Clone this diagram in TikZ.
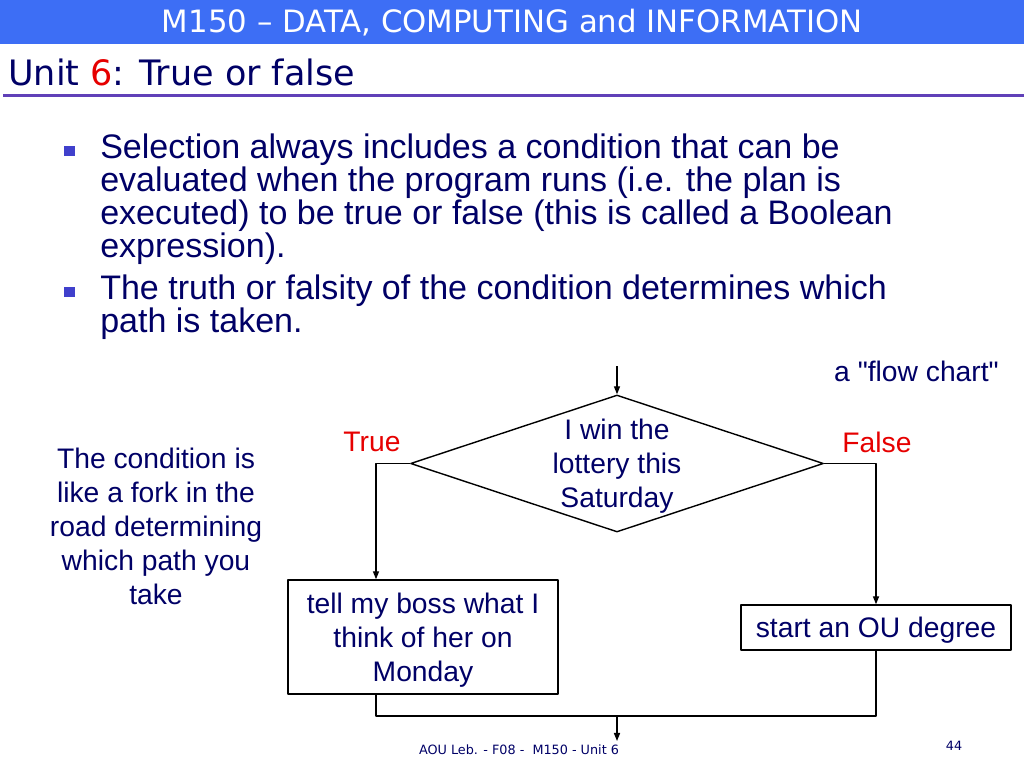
\documentclass[tikz,border=0pt]{standalone}
\usepackage{fontspec}
\setmainfont{Liberation Sans}
\newfontfamily\headfont{DejaVu Sans}
\usetikzlibrary{shapes.geometric,arrows.meta}
\definecolor{navy}{RGB}{0,0,102}
\definecolor{bannerblue}{RGB}{61,110,245}
\definecolor{rulepurple}{RGB}{96,64,184}
\definecolor{bulletblue}{RGB}{64,64,204}
\definecolor{truered}{RGB}{230,0,0}
\newlength\px
\setlength\px{0.25mm}

\begin{document}
\begin{tikzpicture}[x=\px,y=-\px,line join=round,
    flowtext/.style={text=navy,font=\fontsize{20.1}{24.2}\selectfont,align=center,inner sep=0pt,text depth=0pt},
    bodytext/.style={text=navy,font=\fontsize{24.2}{23.3}\selectfont,align=left,inner sep=0pt},
    branch/.style={text=truered,font=\fontsize{20.1}{24.2}\selectfont,inner sep=0pt},
    decision/.style={diamond,draw,line width=1pt,inner sep=0pt,minimum width=413\px,minimum height=137\px},
    process/.style={draw,line width=1pt,flowtext},
    bulletsq/.style={fill=bulletblue,inner sep=0pt,minimum width=11\px,minimum height=10\px},
    arr/.style={line width=1pt,-{Triangle[length=5.7pt,width=4.3pt]}}]
  \useasboundingbox (0,0) rectangle (1024,768);
  % header
  \node[fill=bannerblue,anchor=north west,minimum width=1024\px,minimum height=44\px,inner sep=0pt,
        text=white,font=\headfont\fontsize{21.9}{26}\selectfont] (banner) at (0,0) {M150 – DATA, COMPUTING and INFORMATION};
  \node[anchor=base west,inner sep=0pt,text=navy,font=\headfont\fontsize{24.9}{30}\selectfont] (unit) at (8,85)
        {Unit {\color{truered}6}: True or false};
  \draw[rulepurple,line width=3\px] (3,95) -- (1024,95);
  % bullets
  \node[bulletsq] (sqone) at (69.5,151) {};
  \node[bulletsq] (sqtwo) at (69.5,292) {};
  \node[bodytext,anchor=north west] (bulletone) at (100,134) {Selection always includes a condition that can be\\
        evaluated when the program runs (i.e. the plan is\\
        executed) to be true or false (this is called a Boolean\\
        expression).};
  \node[bodytext,anchor=north west] (bullettwo) at (100,275) {The truth or falsity of the condition determines which\\
        path is taken.};
  % flow chart
  \node[flowtext] (flowchart) at (916.5,371) {a \textquotedbl flow chart\textquotedbl};
  \node[flowtext] (fork) at (156,526) {The condition is\\like a fork in the\\road determining\\which path you\\take};
  \node[decision] (cond) at (617,463.5) {};
  \node[flowtext] (condtext) at (cond.center) {I win the\\lottery this\\Saturday};
  \node[branch] (truelbl) at (372,442) {True};
  \node[branch] (falselbl) at (877,442) {False};
  \node[process,minimum width=270\px,minimum height=114\px] (bossbox) at (423,637)
        {tell my boss what I\\think of her on\\Monday};
  \node[process,minimum width=270\px,minimum height=45\px] (oubox) at (876,627.5) {start an OU degree};
  \coordinate (entry) at (617,366);
  \coordinate (lanel) at (376,463);
  \coordinate (join) at (617,716);
  \coordinate (exit) at (617,741);
  \draw[arr] (entry) -- (cond.north);
  \draw[arr] (cond.west) -| (lanel |- bossbox.north);
  \draw[arr] (cond.east) -| (oubox.north);
  \draw[line width=1pt] (lanel |- bossbox.south) |- (join) -| (oubox.south);
  \draw[arr] (join) -- (exit);
  % footer
  \node[text=navy,font=\headfont\fontsize{9.1}{11}\selectfont,inner sep=0pt] (footer) at (519,750)
        {AOU Leb. - F08 -\ \ M150 - Unit 6};
  \node[text=navy,font=\headfont\fontsize{9.1}{11}\selectfont,inner sep=0pt] (pageno) at (954,746) {44};
\end{tikzpicture}
\end{document}
